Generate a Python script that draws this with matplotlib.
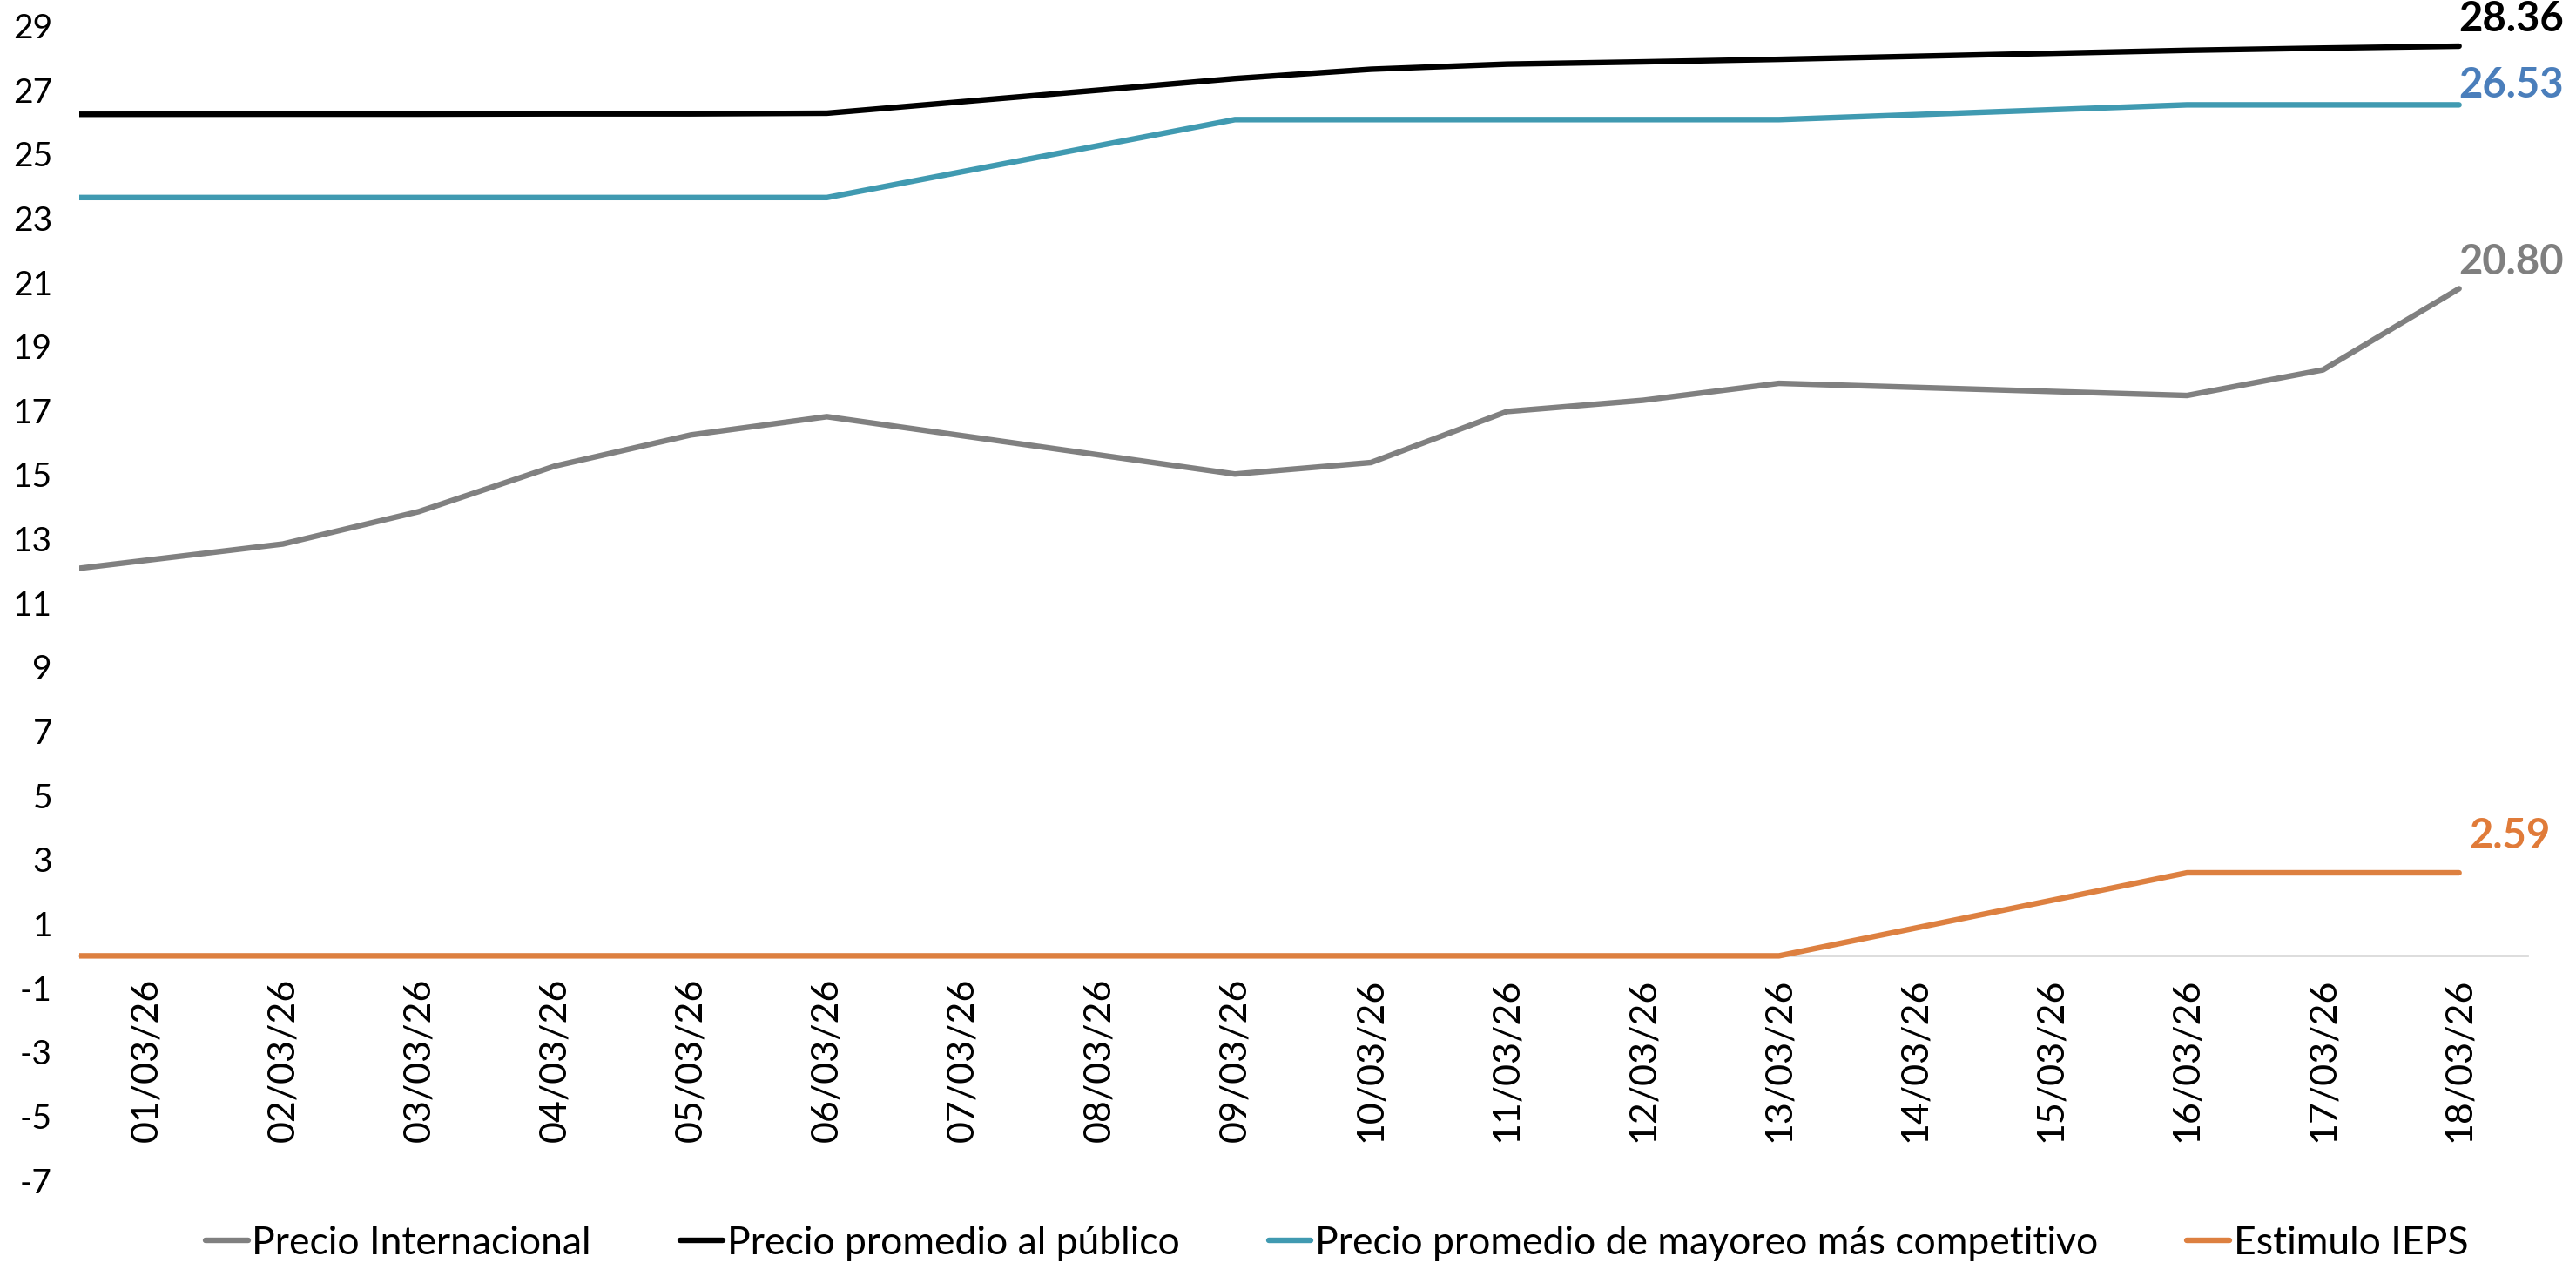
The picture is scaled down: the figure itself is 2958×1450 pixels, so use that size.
import numpy as np
import matplotlib
matplotlib.use("Agg")
import matplotlib.pyplot as plt

plt.rcParams['font.family'] = ['Lato', 'DejaVu Sans']

# ---------------- data ----------------
dates = ["27/02/26", "28/02/26", "01/03/26", "02/03/26", "03/03/26", "04/03/26",
         "05/03/26", "06/03/26", "07/03/26", "08/03/26", "09/03/26", "10/03/26",
         "11/03/26", "12/03/26", "13/03/26", "14/03/26", "15/03/26", "16/03/26",
         "17/03/26", "18/03/26"]
shown_from = "01/03/26"

precio_internacional = [11.32, None, None, 12.84, 13.85, 15.27, 16.24, 16.81, None, None,
                        15.02, 15.38, 16.97, 17.32, 17.85, None, None, 17.47, 18.27, 20.80]
precio_publico = [26.23, None, None, 26.24, 26.24, 26.25, 26.25, 26.27, None, None,
                  27.35, 27.64, 27.80, 27.87, 27.95, None, None, 28.23, 28.30, 28.36]
precio_mayoreo = [23.64, None, None, 23.64, 23.64, 23.64, 23.64, 23.64, None, None,
                  26.07, 26.07, 26.07, 26.07, 26.07, None, None, 26.53, 26.53, 26.53]
estimulo_ieps = [0.0, None, None, 0.0, 0.0, 0.0, 0.0, 0.0, None, None,
                 0.0, 0.0, 0.0, 0.0, 0.0, None, None, 2.59, 2.59, 2.59]

series_names = ["Precio Internacional", "Precio promedio al público",
                "Precio promedio de mayoreo más competitivo", "Estimulo IEPS"]
y_ticks = list(range(-7, 30, 2))

# ---------------- style ----------------
line_colors = ["#808080", "#000000", "#409AB1", "#DD8040"]
label_colors = ["#7F7F7F", "#000000", "#4A7EBB", "#E07B39"]
label_offsets = [(0, 11), (0, 11), (0, 8), (4, 15)]

fig = plt.figure(figsize=(14.79, 7.25), dpi=200)
ax = fig.add_axes([0.0306, 0.0654, 0.9504, 0.9143])

x_all = np.arange(len(dates))
all_series = [precio_internacional, precio_publico, precio_mayoreo, estimulo_ieps]

first_idx = dates.index(shown_from)

handles = []
for vals, name, lc, tc, off in zip(all_series, series_names, line_colors, label_colors, label_offsets):
    xs = [x for x, v in zip(x_all, vals) if v is not None]
    ys = [v for v in vals if v is not None]
    h, = ax.plot(xs, ys, color=lc, lw=2.3, solid_capstyle='round',
                 solid_joinstyle='round', label=name, zorder=3)
    handles.append(h)
    ax.annotate(f"{ys[-1]:.2f}", xy=(xs[-1], ys[-1]), xytext=off,
                textcoords='offset points', ha='left', va='center',
                color=tc, fontsize=17, fontweight='bold',
                annotation_clip=False, zorder=4)

ax.set_xlim(first_idx - 0.5, len(dates) - 0.5)
ax.set_ylim(-7, 29)
ax.set_yticks(y_ticks)
ax.set_yticklabels([str(t) for t in y_ticks])
ax.set_xticks(x_all[first_idx:])
ax.set_xticklabels(dates[first_idx:])

for s in ['top', 'right', 'left']:
    ax.spines[s].set_visible(False)
ax.spines['bottom'].set_position(('data', 0))
ax.spines['bottom'].set_color('#D9D9D9')
ax.spines['bottom'].set_linewidth(1.0)
ax.spines['bottom'].set_zorder(1)

ax.tick_params(axis='x', length=0, pad=9, labelsize=15.5, labelrotation=90,
               labelcolor='#000000')
ax.tick_params(axis='y', length=0, pad=11, labelsize=14)

fig.legend(handles=handles, labels=series_names, loc='center',
           bbox_to_anchor=(0.519, 0.0156), ncol=4, frameon=False,
           fontsize=16, handlelength=1.1, handletextpad=0.1,
           columnspacing=2.3, borderpad=0)

fig.savefig("out.png", dpi=200)
